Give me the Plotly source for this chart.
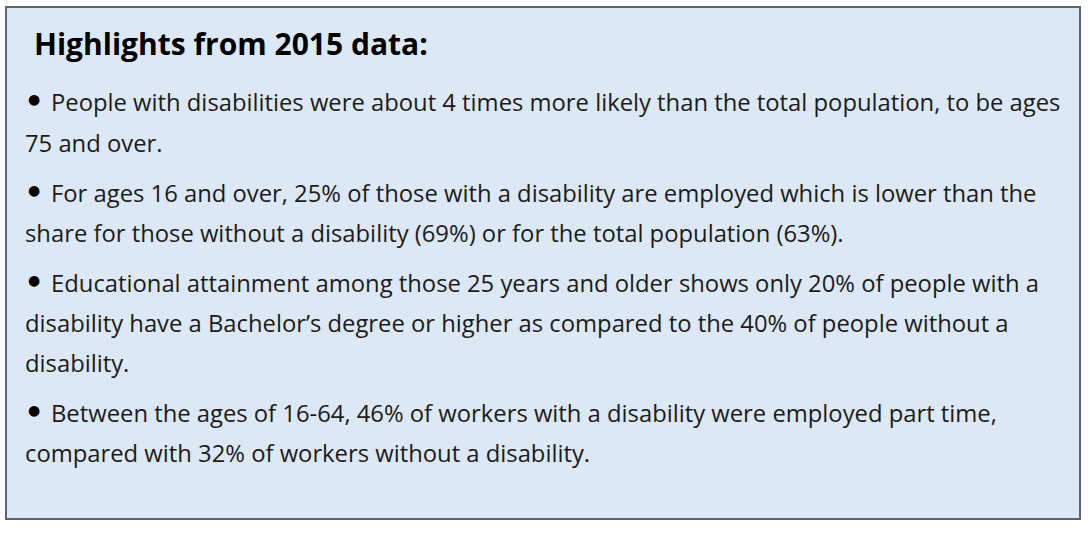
import plotly.graph_objects as go

title = "Highlights from 2015 data:"

bullet_1 = [
    "People with disabilities were about 4 times more likely than the total population, to be ages",
    "75 and over.",
]
bullet_2 = [
    "For ages 16 and over, 25% of those with a disability are employed which is lower than the",
    "share for those without a disability (69%) or for the total population (63%).",
]
bullet_3 = [
    "Educational attainment among those 25 years and older shows only 20% of people with a",
    "disability have a Bachelor\u2019s degree or higher as compared to the 40% of people without a",
    "disability.",
]
bullet_4 = [
    "Between the ages of 16-64, 46% of workers with a disability were employed part time,",
    "compared with 32% of workers without a disability.",
]
bullets = [bullet_1, bullet_2, bullet_3, bullet_4]

W, H = 1090, 542
FONT = "Open Sans"
TEXT_COLOR = "#1b1b1b"

fig = go.Figure()
fig.add_trace(go.Scatter(x=[0], y=[0], mode="markers", marker=dict(opacity=0),
                         hoverinfo="skip", showlegend=False))

fig.add_shape(type="rect", x0=6, y0=7, x1=1080, y1=519,
              line=dict(color="#5a6473", width=2), fillcolor="#dde8f6", layer="below")

fig.add_annotation(x=32, y=43, text="<b>" + title + "</b>", showarrow=False,
                   xanchor="left", yanchor="middle",
                   font=dict(family=FONT, size=30, color="#000000"))

line_y = [[102, 143], [193, 233], [283, 323, 363], [413, 453]]
for lines, ys in zip(bullets, line_y):
    fig.add_annotation(x=34, y=ys[0] - 3, text="\u25CF", showarrow=False,
                       xanchor="center", yanchor="middle",
                       font=dict(family="DejaVu Sans", size=14, color="#000000"))
    for i, (ln, y) in enumerate(zip(lines, ys)):
        fig.add_annotation(x=49 if i == 0 else 23, y=y, text=ln, showarrow=False,
                           xanchor="left", yanchor="middle",
                           font=dict(family=FONT, size=23.8, color=TEXT_COLOR))

fig.update_xaxes(range=[0, W], visible=False, fixedrange=True)
fig.update_yaxes(range=[H, 0], visible=False, fixedrange=True)
fig.update_layout(width=W, height=H, margin=dict(l=0, r=0, t=0, b=0),
                  paper_bgcolor="white", plot_bgcolor="white", showlegend=False)

fig.write_html("out.html", config={"displayModeBar": False},
               post_script="document.body.style.margin='0';document.body.style.overflow='hidden';")
